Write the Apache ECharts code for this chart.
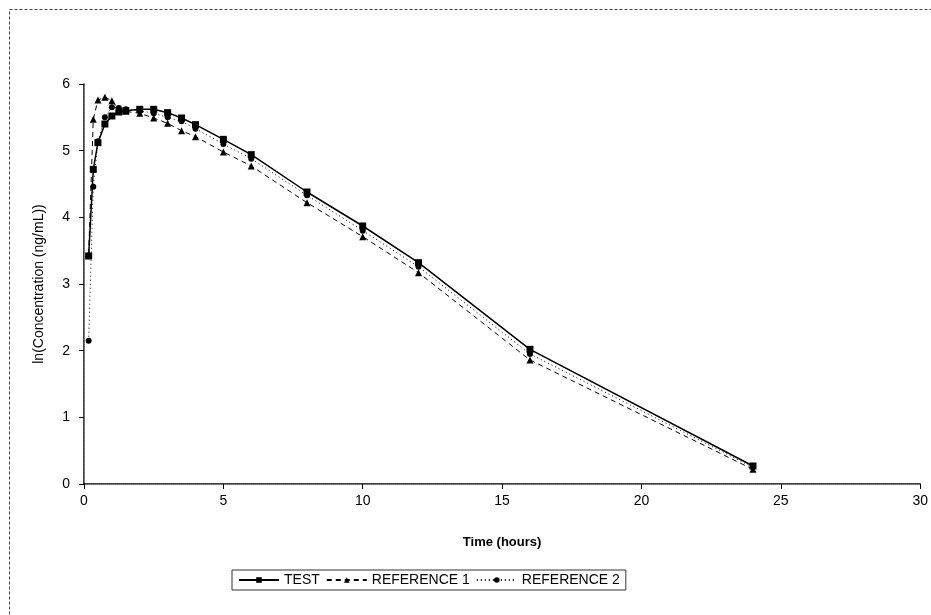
<!DOCTYPE html>
<html>
<head>
<meta charset="utf-8">
<script src="https://cdn.jsdelivr.net/npm/echarts@6/dist/echarts.min.js"></script>
<style>
html,body{margin:0;padding:0;background:#fff;}
#chart{width:931px;height:615px;}
</style>
</head>
<body>
<div id="chart"></div>
<script>
const times = [0.167, 0.333, 0.5, 0.75, 1, 1.25, 1.5, 2, 2.5, 3, 3.5, 4, 5, 6, 8, 10, 12, 16, 24];
const testValues = [3.42, 4.72, 5.12, 5.40, 5.52, 5.58, 5.60, 5.62, 5.62, 5.57, 5.49, 5.39, 5.17, 4.94, 4.38, 3.87, 3.32, 2.02, 0.27];
const ref1Values = [3.45, 5.47, 5.76, 5.80, 5.75, 5.62, 5.59, 5.56, 5.49, 5.41, 5.30, 5.21, 4.98, 4.77, 4.22, 3.71, 3.17, 1.86, 0.22];
const ref2Values = [2.15, 4.46, 5.14, 5.50, 5.65, 5.64, 5.62, 5.60, 5.56, 5.50, 5.44, 5.33, 5.10, 4.88, 4.33, 3.80, 3.26, 1.95, 0.25];
const seriesNames = ['TEST', 'REFERENCE 1', 'REFERENCE 2'];
const xTicks = [0, 5, 10, 15, 20, 25, 30];
const yTicks = [0, 1, 2, 3, 4, 5, 6];

const toPairs = vals => times.map((t, i) => [t, vals[i]]);
const font = 'Liberation Sans, Arial, sans-serif';

const chart = echarts.init(document.getElementById('chart'), null, {renderer: 'canvas'});
chart.setOption({
  backgroundColor: '#fff',
  animation: false,
  textStyle: {fontFamily: font, color: '#000'},
  graphic: [{
    type: 'rect',
    left: 7, top: 7,
    shape: {width: 960, height: 640},
    style: {fill: 'none', stroke: '#444', lineWidth: 1, lineDash: [3, 2]},
    silent: true
  }],
  grid: {left: 84, right: 9, top: 84, bottom: 131, containLabel: false},
  legend: {
    data: seriesNames,
    left: 232, top: 570,
    padding: [3, 6],
    itemGap: 6,
    itemWidth: 40,
    itemHeight: 7,
    borderColor: '#333',
    borderWidth: 1,
    textStyle: {fontFamily: font, fontSize: 14, color: '#000'}
  },
  xAxis: [{
    type: 'value',
    min: xTicks[0], max: xTicks[xTicks.length - 1], interval: 5,
    name: 'Time (hours)',
    nameLocation: 'middle',
    nameGap: 52,
    nameTextStyle: {fontFamily: font, fontSize: 13, fontWeight: 'bold', color: '#000'},
    axisLine: {show: true, lineStyle: {color: '#000', width: 1.5}},
    axisTick: {show: true, inside: false, length: 5, lineStyle: {color: '#000'}},
    axisLabel: {fontFamily: font, fontSize: 14, color: '#000', margin: 10},
    splitLine: {show: false}
  }, {
    type: 'value', position: 'top',
    min: 0, max: 30, interval: 5,
    axisLine: {show: true, lineStyle: {color: '#888', type: 'dotted', width: 1}},
    axisTick: {show: false}, axisLabel: {show: false}, splitLine: {show: false}
  }],
  yAxis: [{
    type: 'value',
    min: yTicks[0], max: yTicks[yTicks.length - 1], interval: 1,
    name: 'ln(Concentration (ng/mL))',
    nameLocation: 'middle',
    nameGap: 38,
    nameRotate: 90,
    nameTextStyle: {fontFamily: font, fontSize: 14, color: '#000'},
    axisLine: {show: true, lineStyle: {color: '#000', width: 1.5}},
    axisTick: {show: true, inside: false, length: 5, lineStyle: {color: '#000'}},
    axisLabel: {fontFamily: font, fontSize: 14, color: '#000', margin: 14},
    splitLine: {show: false}
  }, {
    type: 'value', position: 'right',
    min: 0, max: 6, interval: 1,
    axisLine: {show: true, lineStyle: {color: '#888', type: 'dotted', width: 1}},
    axisTick: {show: false}, axisLabel: {show: false}, splitLine: {show: false}
  }],
  series: [{
    name: seriesNames[0], type: 'line',
    data: toPairs(testValues),
    symbol: 'rect', symbolSize: 7,
    itemStyle: {color: '#000'},
    lineStyle: {color: '#000', width: 1.5, type: 'solid'},
    z: 3
  }, {
    name: seriesNames[1], type: 'line',
    data: toPairs(ref1Values),
    symbol: 'triangle', symbolSize: 7,
    itemStyle: {color: '#000'},
    lineStyle: {color: '#000', width: 1, type: [5, 4]},
    z: 2
  }, {
    name: seriesNames[2], type: 'line',
    data: toPairs(ref2Values),
    symbol: 'circle', symbolSize: 6,
    itemStyle: {color: '#000'},
    lineStyle: {color: '#000', width: 1, type: [1, 3]},
    z: 2
  }]
});
</script>
</body>
</html>
